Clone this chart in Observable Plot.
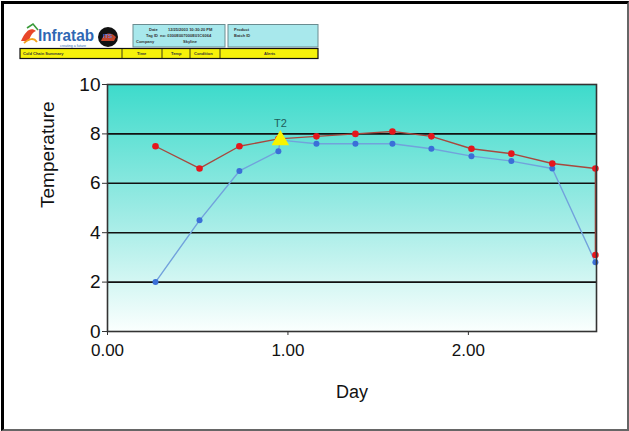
<!DOCTYPE html>
<html>
<head>
<meta charset="utf-8">
<script src="https://cdn.jsdelivr.net/npm/d3@7"></script>
<script src="https://cdn.jsdelivr.net/npm/@observablehq/plot@0.6"></script>
<style>
  html, body { margin: 0; padding: 0; background: #fff; }
  #page { position: relative; width: 629px; height: 431px; overflow: hidden; background: #fff; font-family: "Liberation Sans", Arial, sans-serif; }
  #border { position: absolute; left: 1px; top: 1px; width: 623px; height: 425px; border-left: 3px solid #000; border-top: 3px solid #000; border-right: 2px solid #666; border-bottom: 2px solid #666; }
  #header { position: absolute; left: 0; top: 0; }
  #chart { position: absolute; left: 0; top: 60px; }
</style>
</head>
<body>
<div id="page">
  <div id="border"></div>
  <svg id="header" width="629" height="60" font-family="Liberation Sans, Arial, sans-serif">
    <path d="M21,41 C26,30 31,27 36,31 C33,32 30,36 29,41 Z" fill="#e8462a"/>
    <path d="M24,43 C30,38 34,38 37,42" stroke="#f3a21b" stroke-width="2" fill="none"/>
    <path d="M27,28 L33,24 L38,30" stroke="#3a9a3a" stroke-width="1.6" fill="none"/>
    <text x="38" y="41" font-size="17" fill="#2e67b3" font-weight="bold" textLength="56" lengthAdjust="spacingAndGlyphs">Infratab</text>
    <text x="60" y="47" font-size="3.6" fill="#2e67b3">creating a future</text>
    <circle cx="108" cy="37" r="10" fill="#111"/>
    <path d="M101,41 C104,33 110,31 116,37 L114,41 Z" fill="#c3462a"/>
    <text x="103" y="38" font-size="6" fill="#6b7cd6" font-weight="bold">ITS</text>
    <rect x="133" y="24.5" width="92" height="22.5" fill="#a8e8ec" stroke="#6a8c90" stroke-width="1"/>
    <rect x="228" y="24.5" width="90" height="22.5" fill="#a8e8ec" stroke="#6a8c90" stroke-width="1"/>
    <g font-size="4" font-weight="bold" fill="#333">
      <text x="149" y="31">Date</text>
      <text x="168" y="31">12/25/2003 10:30:20 PM</text>
      <text x="146" y="37">Tag ID</text>
      <text x="160" y="37">no: 0300E007000E01C6064</text>
      <text x="136" y="43">Company</text>
      <text x="183" y="43">Skyline</text>
      <text x="234" y="31">Product</text>
      <text x="234" y="37">Batch ID</text>
    </g>
    <rect x="20" y="48.5" width="298" height="10" fill="#f6f20a" stroke="#111" stroke-width="1.2"/>
    <g stroke="#111" stroke-width="0.8">
      <line x1="122" y1="49" x2="122" y2="59"/>
      <line x1="162" y1="49" x2="162" y2="59"/>
      <line x1="190" y1="49" x2="190" y2="59"/>
      <line x1="220" y1="49" x2="220" y2="59"/>
    </g>
    <g font-size="4" font-weight="bold" fill="#333">
      <text x="23" y="55">Cold Chain Summary</text>
      <text x="137" y="55">Time</text>
      <text x="171" y="55">Temp</text>
      <text x="194" y="55">Condition</text>
      <text x="264" y="55">Alerts</text>
    </g>
  </svg>
  <div id="chart"></div>
</div>
<script>
// Data
const redDay  = [0.266, 0.51, 0.731, 0.947, 1.158, 1.374, 1.579, 1.795, 2.017, 2.238, 2.465, 2.704, 2.704];
const redTemp = [7.5,   6.6,  7.5,   7.8,   7.9,   8.0,   8.1,   7.9,   7.4,   7.2,   6.8,   6.6,   3.1];
const blueDay  = [0.266, 0.51, 0.731, 0.947, 0.958, 1.158, 1.374, 1.579, 1.795, 2.017, 2.238, 2.465, 2.704];
const blueTemp = [2.0,   4.5,  6.5,   7.3,   7.75,  7.6,   7.6,   7.6,   7.4,   7.1,   6.9,   6.6,   2.8];
const markerDay = [0.958];
const markerTemp = [7.75];
const markerLabel = ["T2"];
const yTicks = [0, 2, 4, 6, 8, 10];
const xTicks = [0, 1, 2];
const gridValues = [2, 4, 6, 8];

const red = redDay.map((d, i) => ({day: d, temp: redTemp[i]}));
const blue = blueDay.map((d, i) => ({day: d, temp: blueTemp[i]}));
const marker = markerDay.map((d, i) => ({day: d, temp: markerTemp[i], label: markerLabel[i]}));
const blueDots = blue.filter((d, i) => i !== 4);

const gradientDefs = () => {
  const defs = d3.create("svg:defs");
  const g = defs.append("linearGradient").attr("id", "bgGrad")
    .attr("x1", 0).attr("y1", 0).attr("x2", 0).attr("y2", 1);
  g.append("stop").attr("offset", "0%").attr("stop-color", "#3ddbcb");
  g.append("stop").attr("offset", "55%").attr("stop-color", "#a3ece6");
  g.append("stop").attr("offset", "100%").attr("stop-color", "#fbfffe");
  return defs.node();
};

const chart = Plot.plot({
  width: 629,
  height: 371,
  marginLeft: 107,
  marginRight: 33,
  marginTop: 24,
  marginBottom: 100,
  style: {fontFamily: "Liberation Sans, Arial, sans-serif", background: "transparent", color: "#111"},
  x: {domain: [0, 2.71], ticks: xTicks, tickFormat: d3.format(".2f")},
  y: {domain: [0, 10], ticks: yTicks},
  marks: [
    gradientDefs,
    Plot.frame({fill: "url(#bgGrad)"}),
    Plot.ruleY(gridValues, {stroke: "#111", strokeWidth: 1.6}),
    Plot.axisY({ticks: yTicks, tickSize: 5, tickPadding: 2, fontSize: 19, label: null, stroke: "#333"}),
    Plot.axisX({ticks: xTicks, tickFormat: d3.format(".2f"), tickSize: 4, tickPadding: 8, fontSize: 17, label: null, stroke: "#333"}),
    Plot.text(["Temperature"], {frameAnchor: "left", dx: -60, rotate: -90, fontSize: 19, fill: "#111"}),
    Plot.text(["Day"], {frameAnchor: "bottom", dy: 66, fontSize: 18, fill: "#111"}),
    Plot.line(blue, {x: "day", y: "temp", stroke: "#72a2dc", strokeWidth: 1.4}),
    Plot.line(red, {x: "day", y: "temp", stroke: "#a8483e", strokeWidth: 1.4}),
    Plot.dot(blueDots, {x: "day", y: "temp", r: 3, fill: "#3a6fd8", stroke: "none"}),
    Plot.dot(red, {x: "day", y: "temp", r: 3.3, fill: "#e5161c", stroke: "none"}),
    Plot.dot(marker, {x: "day", y: "temp", symbol: "triangle", r: 6.5, fill: "#f8f400", stroke: "none"}),
    Plot.text(marker, {x: "day", y: "temp", text: "label", dy: -17, fontSize: 11, fill: "#1f5d5a"}),
    Plot.frame({stroke: "#333", strokeWidth: 1.6})
  ]
});
document.getElementById("chart").appendChild(chart);
</script>
</body>
</html>
